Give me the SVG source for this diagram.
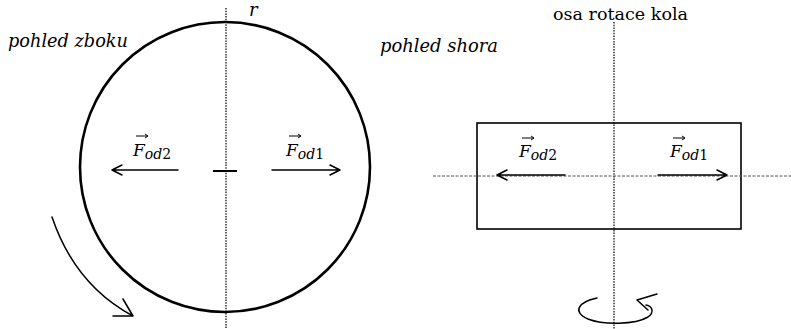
<svg xmlns="http://www.w3.org/2000/svg" width="791" height="329" viewBox="0 0 791 329">
<style>
text{font-family:'DejaVu Serif','Liberation Serif',serif;fill:#000}
.lbl{font-style:italic;font-size:18px}
.up{font-style:normal;font-size:17px}
.F{font-style:italic;font-size:17px}
.sub{font-size:14px}
.sn{font-style:normal}
.axis{stroke:#000;stroke-width:1.2;stroke-dasharray:1.5 1.2;fill:none}
.haxis{stroke:#555;stroke-width:1;stroke-dasharray:3 1.5;fill:none}
.arr{stroke:#000;stroke-width:1.5;fill:none;stroke-linecap:round;stroke-linejoin:round}
.vec{stroke:#000;stroke-width:1;fill:none}
</style>
<rect width="791" height="329" fill="#fff"/>
<g id="side-view">
  <circle cx="225" cy="167" r="145" fill="none" stroke="#000" stroke-width="2.6"/>
  <line class="axis" x1="226" y1="8" x2="226" y2="329"/>
  <line x1="213" y1="171" x2="237" y2="171" stroke="#000" stroke-width="2"/>
  <text class="lbl" x="8" y="47" textLength="120" lengthAdjust="spacingAndGlyphs">pohled zboku</text>
  <text class="lbl" x="249" y="16">r</text>
</g>
<g id="side-forces">
  <path class="arr" d="M178,170 H112 M122,165 L112,170 L122,175"/>
  <path class="arr" d="M272,170 H340 M330,165 L340,170 L330,175"/>
  <text class="F" x="133" y="156">F<tspan class="sub" dy="3">od<tspan class="sn">2</tspan></tspan></text>
  <path class="vec" d="M136,136 H148 M145,134 L148,136 L145,138"/>
  <text class="F" x="286" y="156">F<tspan class="sub" dy="3">od<tspan class="sn">1</tspan></tspan></text>
  <path class="vec" d="M289,136 H301 M298,134 L301,136 L298,138"/>
  <path class="arr" d="M52,217 Q75,285 133,316 M113,316 H133 L123,299" stroke-width="1.6"/>
</g>
<g id="top-view">
  <text class="lbl" x="380" y="52" textLength="118" lengthAdjust="spacingAndGlyphs">pohled shora</text>
  <text class="up" x="553" y="20" textLength="135" lengthAdjust="spacingAndGlyphs">osa rotace kola</text>
  <rect x="477" y="123" width="264" height="106" fill="none" stroke="#000" stroke-width="1.6"/>
  <line class="axis" x1="614" y1="22" x2="614" y2="329"/>
  <line class="haxis" x1="433" y1="176" x2="791" y2="176"/>
</g>
<g id="top-forces">
  <path class="arr" d="M565,175 H497 M507,170 L497,175 L507,180"/>
  <path class="arr" d="M658,175 H727 M717,170 L727,175 L717,180"/>
  <text class="F" x="519" y="157">F<tspan class="sub" dy="3">od<tspan class="sn">2</tspan></tspan></text>
  <path class="vec" d="M522,138 H534 M531,136 L534,138 L531,140"/>
  <text class="F" x="670" y="157">F<tspan class="sub" dy="3">od<tspan class="sn">1</tspan></tspan></text>
  <path class="vec" d="M673,138 H685 M682,136 L685,138 L682,140"/>
  <path class="arr" d="M597,298 C578,302 572,312 588,319 C603,325 635,325 648,317 C655,312 652,306 646,305 M657,294 L637,300 L648,310" stroke-width="1.8"/>
</g>
</svg>
